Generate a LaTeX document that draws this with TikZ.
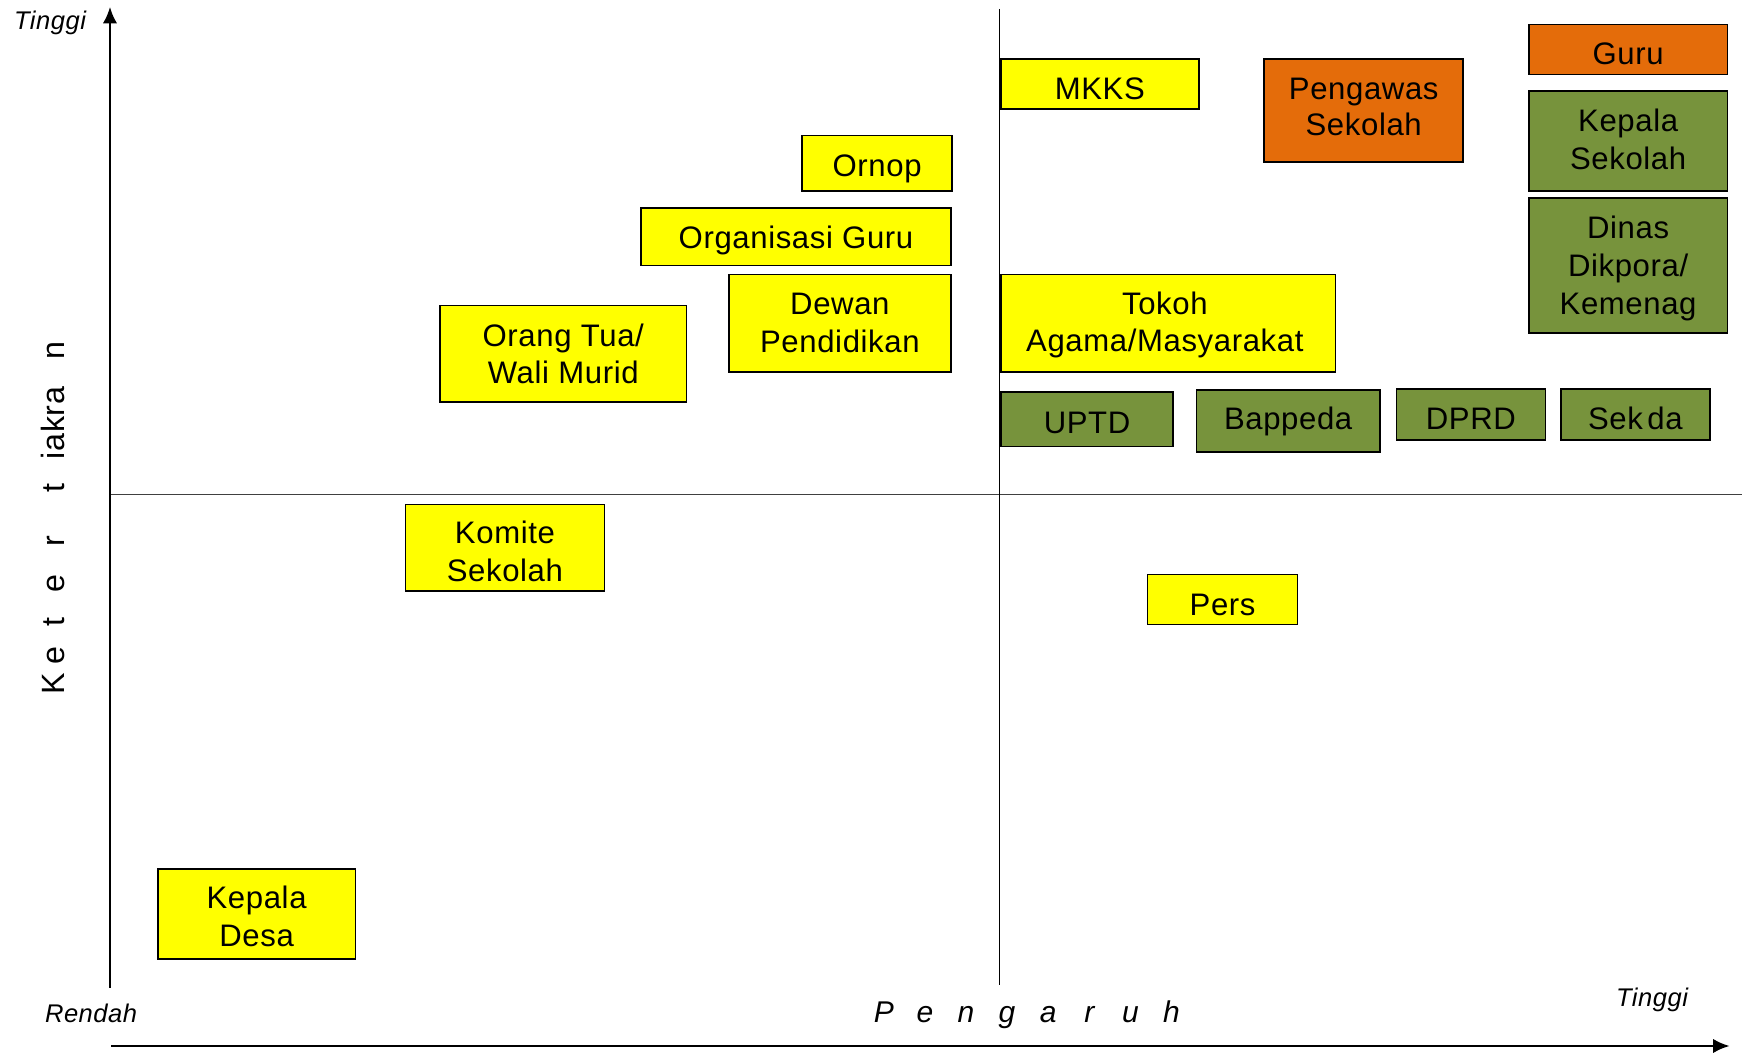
\documentclass[tikz,border=0pt]{standalone}
\usepackage{fontspec}
\setmainfont{Liberation Sans}[LetterSpace=2]
\usetikzlibrary{arrows.meta}
\definecolor{boxyellow}{HTML}{FFFF00}
\definecolor{boxorange}{HTML}{E46C0A}
\definecolor{boxgreen}{HTML}{77933C}
\begin{document}
\begin{tikzpicture}[x=1pt,y=-1pt,
  stakebox/.style={draw=black, line width=1.5pt, inner sep=0pt},
  boxtext/.style={align=center, inner sep=0pt, text=black,
    font=\fontsize{28}{34}\selectfont},
  ylw/.style={stakebox, fill=boxyellow},
  org/.style={stakebox, fill=boxorange},
  grn/.style={stakebox, fill=boxgreen},
  axisline/.style={line width=2.6pt, -{Latex[length=15pt,width=13pt]}},
  midline/.style={line width=1.1pt, draw=black!75},
  axlabel/.style={inner sep=0pt, font=\fontsize{23}{27}\selectfont\itshape},
  bigaxlabel/.style={inner sep=0pt, font=\fontsize{27}{32}\selectfont\itshape},
  sidelabel/.style={inner sep=0pt, rotate=90, font=\fontsize{29}{34}\selectfont}
]
\useasboundingbox (0,0) rectangle (1568,947);

% quadrant lines
\coordinate (hl) at (100,445);
\coordinate (hr) at (1568,445);
\coordinate (vt) at (900,8);
\coordinate (vb) at (900,887);
\draw[midline] (hl) -- (hr);
\draw[midline, draw=black] (vt) -- (vb);

% axes
\coordinate (yb) at (99,889);
\coordinate (yt) at (99,6);
\draw[axisline] (yb) -- (yt);
\coordinate (xl) at (100,941.5);
\coordinate (xr) at (1557,941.5);
\draw[axisline] (xl) -- (xr);

% axis labels
\node[axlabel] (ttop) at (45,21) {Tinggi};
\node[axlabel] (rendah) at (82,912) {Rendah};
\node[axlabel] (tbot) at (1487,900) {Tinggi};
\node[bigaxlabel] (pengaruh) at (925,913) {\makebox[37pt]{P}\makebox[37pt]{e}\makebox[37pt]{n}\makebox[37pt]{g}\makebox[37pt]{a}\makebox[37pt]{r}\makebox[37pt]{u}\makebox[37pt]{h}};
\node[sidelabel] (keter) at (48,454.85) {\makebox[23.7pt]{K}\makebox[28pt]{e}\makebox[33pt]{t}\makebox[35pt]{e}\makebox[42pt]{r}\makebox[53.5pt]{t}\makebox[63.5pt]{iakra}\makebox[67pt]{n}};

% stakeholder boxes
\node[ylw, minimum width=178pt, minimum height=81pt,
  label={[boxtext, yshift=-2.5pt]center:{Kepala\\Desa}}] (kdesa) at (231,822.5) {};
\node[ylw, minimum width=179pt, minimum height=78pt,
  label={[boxtext, yshift=-3pt]center:{Komite\\Sekolah}}] (komite) at (454.5,493) {};
\node[ylw, minimum width=222pt, minimum height=87pt,
  label={[boxtext]center:{Orang Tua/\\Wali Murid}}] (ortu) at (507,318.5) {};
\node[ylw, minimum width=200pt, minimum height=88pt,
  label={[boxtext]center:{Dewan\\Pendidikan}}] (dewan) at (756,291) {};
\node[ylw, minimum width=279pt, minimum height=52pt,
  label={[boxtext, yshift=-3pt]center:{Organisasi Guru}}] (orgguru) at (716.5,213) {};
\node[ylw, minimum width=135pt, minimum height=50pt,
  label={[boxtext, yshift=-5pt]center:{Ornop}}] (ornop) at (789.5,147) {};
\node[ylw, minimum width=178pt, minimum height=45pt,
  label={[boxtext, yshift=-4pt]center:{MKKS}}] (mkks) at (990,75.5) {};
\node[ylw, minimum width=301pt, minimum height=88pt,
  label={[boxtext, yshift=-1.5pt, xshift=-3pt]center:{Tokoh\\Agama/Masyarakat}}] (tokoh) at (1051.5,291) {};
\node[grn, minimum width=155pt, minimum height=49pt,
  label={[boxtext, yshift=-3pt]center:{UPTD}}] (uptd) at (978.5,377.5) {};
\node[grn, minimum width=165pt, minimum height=56pt,
  label={[boxtext]center:{Bappeda}}] (bappeda) at (1159.5,379) {};
\node[grn, minimum width=134pt, minimum height=46pt,
  label={[boxtext, yshift=-4pt]center:{DPRD}}] (dprd) at (1324,373) {};
\node[grn, minimum width=134pt, minimum height=46pt,
  label={[boxtext, yshift=-4pt]center:{Sek\hspace{4pt}da}}] (sekda) at (1472,373) {};
\node[org, minimum width=179pt, minimum height=93pt,
  label={[boxtext, yshift=3pt, font=\fontsize{28}{32}\selectfont]center:{Pengawas\\Sekolah}}] (pengawas) at (1227.5,99.5) {};
\node[org, minimum width=179pt, minimum height=45pt,
  label={[boxtext, yshift=-4pt]center:{Guru}}] (guru) at (1465.5,44.5) {};
\node[grn, minimum width=179pt, minimum height=90pt,
  label={[boxtext, yshift=1.5pt]center:{Kepala\\Sekolah}}] (kepsek) at (1465.5,127) {};
\node[grn, minimum width=179pt, minimum height=122pt,
  label={[boxtext, yshift=-2.5pt]center:{Dinas\\Dikpora/\\Kemenag}}] (dinas) at (1465.5,239) {};
\node[ylw, minimum width=135pt, minimum height=45pt,
  label={[boxtext, yshift=-5pt]center:{Pers}}] (pers) at (1100.5,539.5) {};
\end{tikzpicture}
\end{document}
